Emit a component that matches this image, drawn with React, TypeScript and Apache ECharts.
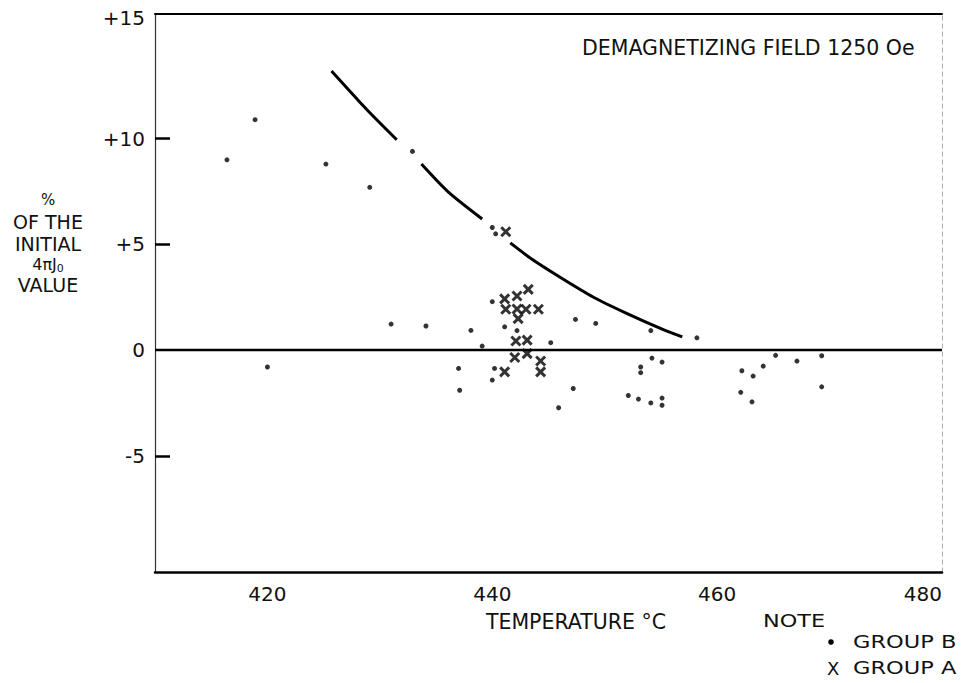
import React, { useEffect, useRef } from 'react';
import * as echarts from 'echarts';

const FONT = "'DejaVu Sans', 'Liberation Sans', sans-serif";

// Axis ticks / labels
const xLabelValues = [420, 440, 460, 480];
const yTickValues = [-5, 5, 10];
const yLabelValues = [-5, 0, 5, 10, 15.7];

// Group B (dots): [temperature °C, % of initial value]
const groupB: number[][] = [
  [416.4, 9.0], [418.9, 10.9], [420.0, -0.8], [425.2, 8.8], [429.1, 7.7],
  [432.9, 9.4], [431.0, 1.23], [434.1, 1.14], [440.0, 5.8], [440.3, 5.5],
  [440.0, 2.29], [438.1, 0.93], [441.1, 1.1], [442.2, 0.92], [439.1, 0.19],
  [445.2, 0.35], [437.0, -0.87], [440.2, -0.87], [440.0, -1.42], [437.1, -1.9],
  [447.2, -1.82], [445.9, -2.73], [447.4, 1.45], [449.2, 1.26], [454.1, 0.92],
  [458.2, 0.58], [454.2, -0.38], [455.1, -0.57], [453.2, -0.8], [453.2, -1.07],
  [452.1, -2.15], [453.0, -2.32], [454.1, -2.5], [455.1, -2.27], [455.1, -2.61],
  [465.2, -0.25], [467.1, -0.52], [469.3, -0.27], [464.1, -0.76], [462.2, -0.98],
  [463.2, -1.23], [462.1, -2.0], [463.1, -2.45], [469.3, -1.74],
];

// Group A (crosses)
const groupA: number[][] = [
  [443.2, 2.87], [441.1, 2.42], [442.2, 2.56], [441.2, 1.93], [442.2, 1.94],
  [443.0, 1.93], [444.1, 1.93], [442.3, 1.49], [442.1, 0.43], [443.1, 0.47],
  [442.0, -0.35], [443.1, -0.17], [444.3, -0.52], [444.3, -1.03], [441.1, -1.03],
  [441.2, 5.6],
];

// Demagnetizing-field curve (drawn broken where it passes data points)
const curveSeg1: number[][] = [[425.7, 13.2], [428.1, 11.8], [429.9, 10.8], [431.5, 9.95]];
const curveSeg2: number[][] = [[433.7, 8.8], [436.1, 7.47], [439.1, 6.2]];
const curveSeg3: number[][] = [
  [441.6, 5.07], [443.6, 4.27], [446.1, 3.42], [449.0, 2.5], [451.9, 1.75], [454.9, 1.04], [456.9, 0.62],
];

const zeroLine: number[][] = [[410, 0], [480, 0]];

const X_MIN = 410;
const X_MAX = 480;
const Y_MIN = -10.5;
const Y_MAX = 15.9;

export default function App() {
  const ref = useRef<HTMLDivElement>(null);

  useEffect(() => {
    const chart = echarts.init(ref.current!, null, { renderer: 'svg' });
    const curveSeries = [curveSeg1, curveSeg2, curveSeg3].map((seg) => ({
      type: 'line',
      name: 'curve',
      data: seg,
      smooth: 0.25,
      showSymbol: false,
      lineStyle: { color: '#000', width: 3 },
      silent: true,
    }));

    chart.setOption({
      animation: false,
      backgroundColor: '#fff',
      textStyle: { fontFamily: FONT, color: '#111' },
      title: {
        text: 'DEMAGNETIZING FIELD 1250 Oe',
        left: 582,
        top: 37,
        padding: 0,
        textStyle: { fontFamily: FONT, fontSize: 20.5, fontWeight: 'normal', color: '#111' },
      },
      grid: { left: 155, right: 22, top: 14, bottom: 111, containLabel: false },
      xAxis: [
        {
          type: 'value',
          min: X_MIN,
          max: X_MAX,
          position: 'bottom',
          name: 'TEMPERATURE °C',
          nameLocation: 'middle',
          nameGap: 39,
          nameTextStyle: { fontFamily: FONT, fontSize: 20.5, color: '#111', padding: [0, 0, 0, 55] },
          axisLine: { show: true, onZero: false, lineStyle: { color: '#000', width: 2.5 } },
          axisTick: { show: false },
          axisLabel: {
            customValues: xLabelValues,
            fontFamily: FONT,
            fontSize: 20,
            color: '#111',
            margin: 12,
            alignMaxLabel: 'right',
          },
          splitLine: { show: false },
        },
        {
          type: 'value',
          min: X_MIN,
          max: X_MAX,
          position: 'top',
          axisLine: { show: true, onZero: false, lineStyle: { color: '#000', width: 2 } },
          axisTick: { show: false },
          axisLabel: { show: false },
          splitLine: { show: false },
        },
      ],
      yAxis: [
        {
          type: 'value',
          min: Y_MIN,
          max: Y_MAX,
          position: 'left',
          axisLine: { show: true, onZero: false, lineStyle: { color: '#333', width: 1.2 } },
          axisTick: {
            show: true,
            inside: true,
            length: 15,
            customValues: yTickValues,
            lineStyle: { color: '#000', width: 2.5 },
          },
          axisLabel: {
            customValues: yLabelValues,
            fontFamily: FONT,
            fontSize: 20,
            color: '#111',
            margin: 10,
            formatter: (v: number) => (v > 15 ? '+15' : v > 0 ? '+' + v : v === 0 ? '0' : '-' + Math.abs(v)),
          },
          splitLine: { show: false },
        },
        {
          type: 'value',
          min: Y_MIN,
          max: Y_MAX,
          position: 'right',
          axisLine: { show: true, onZero: false, lineStyle: { color: '#aaa', width: 1, type: [4, 4] } },
          axisTick: { show: false },
          axisLabel: { show: false },
          splitLine: { show: false },
        },
      ],
      series: [
        {
          type: 'line',
          name: 'zero',
          data: zeroLine,
          showSymbol: false,
          silent: true,
          lineStyle: { color: '#000', width: 2.5 },
        },
        ...curveSeries,
        {
          type: 'scatter',
          name: 'GROUP B',
          data: groupB,
          symbol: 'circle',
          symbolSize: 5,
          itemStyle: { color: '#000' },
        },
        {
          type: 'scatter',
          name: 'GROUP A',
          data: groupA,
          symbol: 'path://M0,0L10,10M10,0L0,10',
          symbolSize: 9,
          itemStyle: { color: '#000', borderColor: '#000', borderWidth: 3 },
        },
      ],
      graphic: [
        {
          type: 'text',
          x: 48,
          y: 189,
          style: {
            text: '{p|%}\n{t|OF THE}\n{t|INITIAL}\n{m|4πJ}{s|0}\n{t|VALUE}',
            align: 'center',
            verticalAlign: 'top',
            fill: '#111',
            fontFamily: FONT,
            rich: {
              p: { fontSize: 15, lineHeight: 22, fontFamily: FONT },
              t: { fontSize: 19, lineHeight: 22, fontFamily: FONT },
              m: { fontSize: 16, lineHeight: 19, fontFamily: FONT },
              s: { fontSize: 11, lineHeight: 19, verticalAlign: 'bottom', fontFamily: FONT },
            },
          },
        },
        {
          type: 'text',
          x: 763,
          y: 621,
          scaleX: 1.24,
          style: { text: 'NOTE', fontSize: 18, fontFamily: FONT, fill: '#111', align: 'left', verticalAlign: 'middle' },
        },
        {
          type: 'circle',
          shape: { cx: 831, cy: 642, r: 2.8 },
          style: { fill: '#000' },
        },
        {
          type: 'text',
          x: 853,
          y: 642,
          scaleX: 1.25,
          style: { text: 'GROUP B', fontSize: 18, fontFamily: FONT, fill: '#111', align: 'left', verticalAlign: 'middle' },
        },
        {
          type: 'text',
          x: 827,
          y: 668,
          style: { text: 'X', fontSize: 18, fontFamily: FONT, fill: '#111', align: 'left', verticalAlign: 'middle' },
        },
        {
          type: 'text',
          x: 853,
          y: 668,
          scaleX: 1.25,
          style: { text: 'GROUP A', fontSize: 18, fontFamily: FONT, fill: '#111', align: 'left', verticalAlign: 'middle' },
        },
      ],
    });

    return () => chart.dispose();
  }, []);

  return <div ref={ref} style={{ position: 'absolute', left: 0, top: 0, width: 964, height: 683 }} />;
}
